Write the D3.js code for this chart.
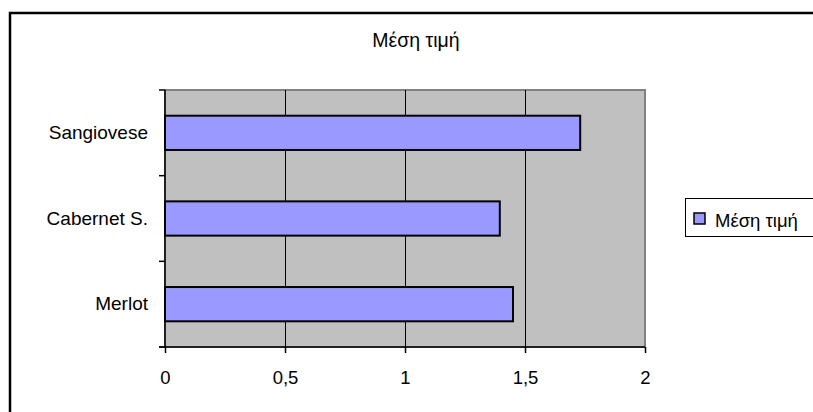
<!DOCTYPE html>
<html><head><meta charset="utf-8">
<script src="https://cdn.jsdelivr.net/npm/d3@7"></script>
<style>body{margin:0;background:#fff}svg{display:block}text{font-family:"Liberation Sans",Arial,sans-serif;fill:#000}</style>
</head><body><svg id="c" width="813" height="412"></svg>
<script>
const title = "Μέση τιμή";
const categories = ["Sangiovese", "Cabernet S.", "Merlot"];
const values = [1.73, 1.395, 1.45];
const seriesName = "Μέση τιμή";
const xTicks = [0, 0.5, 1, 1.5, 2];
const xTickLabels = ["0", "0,5", "1", "1,5", "2"];

const svg = d3.select("#c");
const L = 165, R = 645, T = 90, B = 347;
const FONT = '"Liberation Sans",Arial,sans-serif';
const x = d3.scaleLinear().domain([0, 2]).range([L, R]);
const y = d3.scaleBand().domain(categories).range([T, B]).paddingInner(0.6).paddingOuter(0.3);

// outer border
svg.append("rect").attr("x", 10).attr("y", 13).attr("width", 820).attr("height", 420)
  .attr("fill", "#fff").attr("stroke", "#000").attr("stroke-width", 2.5);

// plot area
svg.append("rect").attr("x", L).attr("y", T).attr("width", R - L).attr("height", B - T)
  .attr("fill", "#c0c0c0").attr("stroke", "#808080").attr("stroke-width", 2);

// gridlines
svg.append("g").selectAll("line").data(xTicks.filter(d => d > 0 && d < 2)).join("line")
  .attr("x1", d => x(d) + 0.5).attr("x2", d => x(d) + 0.5).attr("y1", T).attr("y2", B)
  .attr("stroke", "#000").attr("stroke-width", 1);

// bars
svg.append("g").selectAll("rect").data(values).join("rect")
  .attr("x", x(0)).attr("y", (d, i) => y(categories[i]))
  .attr("width", d => x(d) - x(0)).attr("height", y.bandwidth())
  .attr("fill", "#9999ff").attr("stroke", "#000").attr("stroke-width", 2);

// x axis
const xAxis = d3.axisBottom(x).tickValues(xTicks).tickFormat((d, i) => xTickLabels[i]).tickSize(6).tickPadding(18);
const gx = svg.append("g").attr("transform", `translate(0,${B})`).call(xAxis);
gx.select(".domain").attr("stroke", "#000").attr("stroke-width", 1.5).attr("d", `M${L - 6},0H${R}`);
gx.selectAll(".tick line").attr("stroke", "#000").attr("stroke-width", 1.5);
gx.selectAll("text").attr("font-size", 18.5).attr("fill", "#000").style("font-family", FONT);

// y axis
const yAxis = d3.axisLeft(y).tickSize(0).tickPadding(17);
const gy = svg.append("g").attr("transform", `translate(${L},0)`).call(yAxis);
gy.select(".domain").attr("stroke", "#000").attr("stroke-width", 1.5).attr("d", `M0,${T}V${B}`);
gy.selectAll("text").attr("font-size", 19).attr("fill", "#000").style("font-family", FONT);
// category boundary ticks
const bounds = [T].concat(categories.map((c, i) => T + (B - T) * (i + 1) / categories.length));
svg.append("g").selectAll("line").data(bounds).join("line")
  .attr("x1", L - 6).attr("x2", L).attr("y1", d => d).attr("y2", d => d)
  .attr("stroke", "#000").attr("stroke-width", 1.5);

// title
svg.append("text").attr("x", 416).attr("y", 47).attr("text-anchor", "middle")
  .attr("font-size", 19.5).text(title);

// legend
const lg = svg.append("g");
lg.append("rect").attr("x", 685.5).attr("y", 198.5).attr("width", 140).attr("height", 38)
  .attr("fill", "#fff").attr("stroke", "#000").attr("stroke-width", 1);
lg.append("rect").attr("x", 694).attr("y", 213).attr("width", 11).attr("height", 11)
  .attr("fill", "#9999ff").attr("stroke", "#000").attr("stroke-width", 1.5);
lg.append("text").attr("x", 715).attr("y", 226.5).attr("font-size", 18.5).text(seriesName);
</script></body></html>
